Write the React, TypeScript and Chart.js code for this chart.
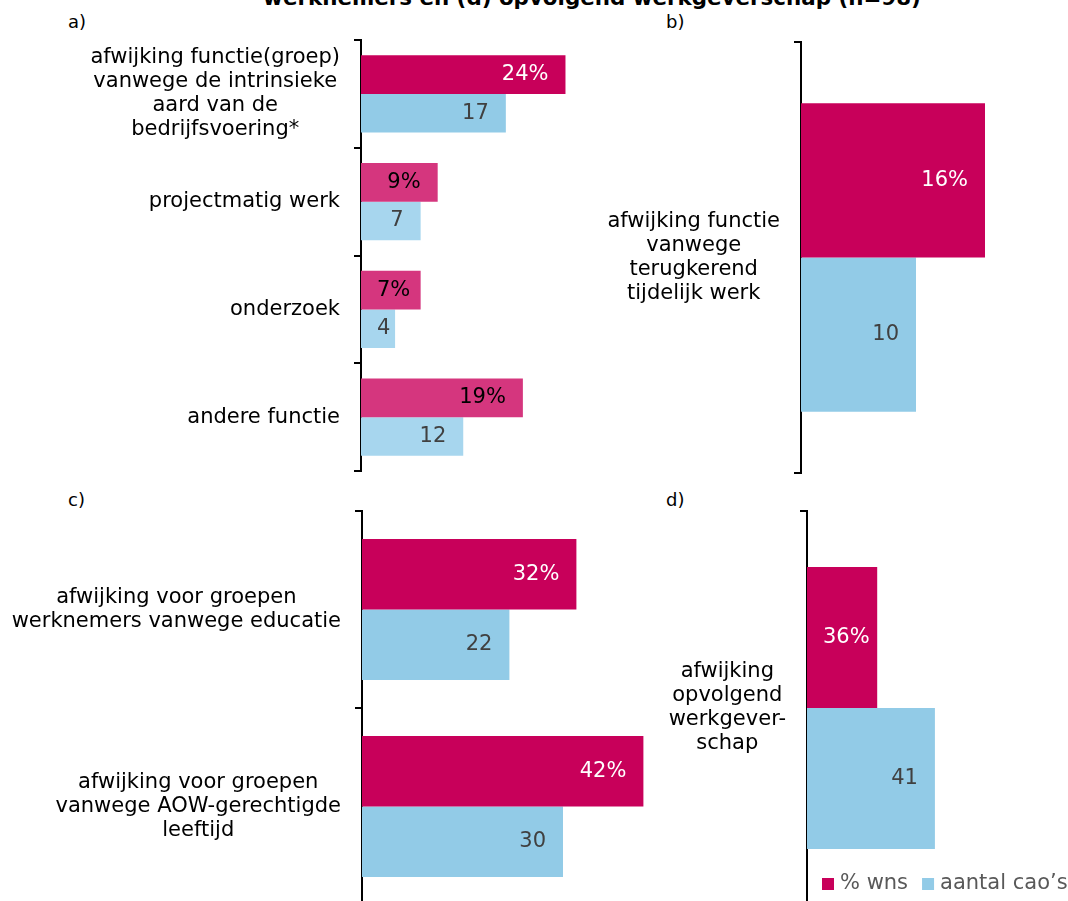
import React, { useEffect, useRef } from 'react';
import { Chart, registerables } from 'chart.js';

Chart.register(...registerables);

const FONT = '"DejaVu Sans", Verdana, sans-serif';

// ---------- data ----------
const seriesNames = ['% wns', 'aantal cao’s'];

const catsA = [
  ['afwijking functie(groep)', 'vanwege de intrinsieke', 'aard van de', 'bedrijfsvoering*'],
  ['projectmatig werk'],
  ['onderzoek'],
  ['andere functie'],
];
const pctA = [24, 9, 7, 19];
const caoA = [17, 7, 4, 12];

const catsB = [['afwijking functie', 'vanwege', 'terugkerend', 'tijdelijk werk']];
const pctB = [16];
const caoB = [10];

const catsC = [
  ['afwijking voor groepen', 'werknemers vanwege educatie'],
  ['afwijking voor groepen', 'vanwege AOW-gerechtigde', 'leeftijd'],
];
const pctC = [32, 42];
const caoC = [22, 30];

const catsD = [['afwijking', 'opvolgend', 'werkgever-', 'schap']];
const pctD = [36];
const caoD = [41];

const titleText = 'werknemers en (d) opvolgend werkgeverschap (n=98)';

// ---------- styles ----------
const PINK = '#C8005A';
const PINK_LIGHT = '#D5367E';
const BLUE = '#92CBE7';
const BLUE_LIGHT = '#A7D6EE';

type PanelProps = {
  labels: string[][];
  pct: number[];
  cao: number[];
  left: number;
  top: number;
  width: number;
  height: number;
  axisX: number;
  maxCao: number;
  maxPct: number;
  pinkColors: string[];
  blueColors: string[];
  pinkLabelColors: string[];
  legend?: boolean;
};

const PAD = 4;

function Panel(p: PanelProps) {
  const ref = useRef<HTMLCanvasElement | null>(null);

  useEffect(() => {
    if (!ref.current) return;

    const catLabels = {
      id: 'catLabels',
      afterDraw(chart: any) {
        const ctx = chart.ctx;
        const ys = chart.scales.y;
        const right = chart.chartArea.left - 21;
        ctx.save();
        ctx.font = `21px ${FONT}`;
        ctx.fillStyle = '#000000';
        ctx.textAlign = 'center';
        ctx.textBaseline = 'middle';
        (chart.data.labels as string[][]).forEach((lines, i) => {
          const w = Math.max(...lines.map((l) => ctx.measureText(l).width));
          const cx = right - w / 2;
          const cy = ys.getPixelForTick(i);
          lines.forEach((l, j) => {
            ctx.fillText(l, cx, cy + (j - (lines.length - 1) / 2) * 24);
          });
        });
        ctx.restore();
      },
    };

    const valueLabels = {
      id: 'valueLabels',
      afterDatasetsDraw(chart: any) {
        const ctx = chart.ctx;
        ctx.save();
        ctx.font = `21px ${FONT}`;
        ctx.textAlign = 'left';
        ctx.textBaseline = 'middle';
        chart.data.datasets.forEach((ds: any, di: number) => {
          const meta = chart.getDatasetMeta(di);
          meta.data.forEach((bar: any, i: number) => {
            const { x, y, base } = bar.getProps(['x', 'y', 'base'], true);
            const v = ds.data[i];
            const text = di === 0 ? `${v}%` : `${v}`;
            const w = ctx.measureText(text).width;
            let lx = x - 17 - w;
            if (lx < base + 16) lx = base + 16;
            ctx.fillStyle = di === 0 ? p.pinkLabelColors[i] : '#404040';
            ctx.fillText(text, lx, y);
          });
        });
        ctx.restore();
      },
    };

    const legendPlugin = {
      id: 'customLegend',
      afterDraw(chart: any) {
        if (!p.legend) return;
        const ctx = chart.ctx;
        ctx.save();
        ctx.font = `21px ${FONT}`;
        ctx.textBaseline = 'middle';
        ctx.textAlign = 'left';
        let x = 822 - p.left;
        const cy = 884 - p.top;
        chart.data.datasets.forEach((ds: any, di: number) => {
          ctx.fillStyle = di === 0 ? PINK : BLUE;
          ctx.fillRect(x, cy - 6, 12, 12);
          x += 18;
          ctx.fillStyle = '#595959';
          ctx.fillText(ds.label, x, cy);
          x += ctx.measureText(ds.label).width + 14;
        });
        ctx.restore();
      },
    };

    const chart = new Chart(ref.current, {
      type: 'bar',
      data: {
        labels: p.labels as any,
        datasets: [
          {
            label: seriesNames[0],
            data: p.pct,
            backgroundColor: p.pinkColors,
            xAxisID: 'x2',
            categoryPercentage: 0.716,
            barPercentage: 1,
          },
          {
            label: seriesNames[1],
            data: p.cao,
            backgroundColor: p.blueColors,
            xAxisID: 'x',
            categoryPercentage: 0.716,
            barPercentage: 1,
          },
        ],
      },
      options: {
        indexAxis: 'y',
        animation: false,
        responsive: false,
        maintainAspectRatio: false,
        devicePixelRatio: 1,
        layout: { padding: { top: PAD, bottom: PAD, left: 0, right: 0 } },
        plugins: {
          legend: { display: false },
          tooltip: { enabled: false },
          title: { display: false },
        },
        scales: {
          x: { display: false, min: 0, max: p.maxCao },
          x2: { display: false, min: 0, max: p.maxPct, position: 'bottom' },
          y: {
            offset: true,
            grid: {
              offset: true,
              drawOnChartArea: false,
              drawTicks: true,
              tickLength: 7,
              color: '#000000',
              lineWidth: 2,
            },
            border: { display: true, color: '#000000', width: 2 },
            ticks: { display: false },
            afterFit: (s: any) => {
              s.width = p.axisX - p.left;
            },
          },
        },
      } as any,
      plugins: [catLabels, valueLabels, legendPlugin],
    });
    return () => chart.destroy();
  }, []);

  return (
    <canvas
      ref={ref}
      width={p.width}
      height={p.height}
      style={{
        position: 'absolute',
        left: p.left,
        top: p.top,
        width: p.width,
        height: p.height,
      }}
    />
  );
}

const letterStyle = (left: number, top: number): React.CSSProperties => ({
  position: 'absolute',
  left,
  top,
  fontFamily: FONT,
  fontSize: 18,
  lineHeight: '18px',
  color: '#000',
  whiteSpace: 'nowrap',
});

export default function App() {
  const aLeft = 0, aWidth = 600, aAxis = 361;
  const bLeft = 600, bWidth = 468, bAxis = 801;
  const cLeft = 0, cWidth = 660, cAxis = 362;
  const dLeft = 660, dWidth = 408, dAxis = 807;

  return (
    <div
      style={{
        position: 'fixed',
        left: 0,
        top: 0,
        width: 1068,
        height: 901,
        overflow: 'hidden',
        background: '#ffffff',
      }}
    >
      <div
        style={{
          position: 'absolute',
          left: 592,
          top: -13,
          transform: 'translateX(-50%)',
          fontFamily: FONT,
          fontWeight: 'bold',
          fontSize: 21.4,
          lineHeight: '21px',
          whiteSpace: 'nowrap',
          color: '#000',
        }}
      >
        {titleText}
      </div>
      <div style={letterStyle(68, 13)}>a)</div>
      <div style={letterStyle(666, 13)}>b)</div>
      <div style={letterStyle(68, 491)}>c)</div>
      <div style={letterStyle(666, 491)}>d)</div>

      <Panel
        labels={catsA}
        pct={pctA}
        cao={caoA}
        left={aLeft}
        top={40 - PAD}
        width={aWidth}
        height={431 + 2 * PAD}
        axisX={aAxis}
        maxCao={(aWidth - aAxis) / 8.52}
        maxPct={(aWidth - aAxis) / 8.52}
        pinkColors={[PINK, PINK_LIGHT, PINK_LIGHT, PINK_LIGHT]}
        blueColors={[BLUE, BLUE_LIGHT, BLUE_LIGHT, BLUE_LIGHT]}
        pinkLabelColors={['#ffffff', '#000000', '#000000', '#000000']}
      />
      <Panel
        labels={catsB}
        pct={pctB}
        cao={caoB}
        left={bLeft}
        top={42 - PAD}
        width={bWidth}
        height={431 + 2 * PAD}
        axisX={bAxis}
        maxCao={(bWidth - (bAxis - bLeft)) / 11.5}
        maxPct={(bWidth - (bAxis - bLeft)) / 11.5}
        pinkColors={[PINK]}
        blueColors={[BLUE]}
        pinkLabelColors={['#ffffff']}
      />
      <Panel
        labels={catsC}
        pct={pctC}
        cao={caoC}
        left={cLeft}
        top={511 - PAD}
        width={cWidth}
        height={394 + 2 * PAD}
        axisX={cAxis}
        maxCao={(cWidth - cAxis) / 6.7}
        maxPct={(cWidth - cAxis) / 6.7}
        pinkColors={[PINK, PINK]}
        blueColors={[BLUE, BLUE]}
        pinkLabelColors={['#ffffff', '#ffffff']}
      />
      <Panel
        labels={catsD}
        pct={pctD}
        cao={caoD}
        left={dLeft}
        top={511 - PAD}
        width={dWidth}
        height={394 + 2 * PAD}
        axisX={dAxis}
        maxCao={(dWidth - (dAxis - dLeft)) / 3.12}
        maxPct={(dWidth - (dAxis - dLeft)) / 1.95}
        pinkColors={[PINK]}
        blueColors={[BLUE]}
        pinkLabelColors={['#ffffff']}
        legend
      />
    </div>
  );
}
